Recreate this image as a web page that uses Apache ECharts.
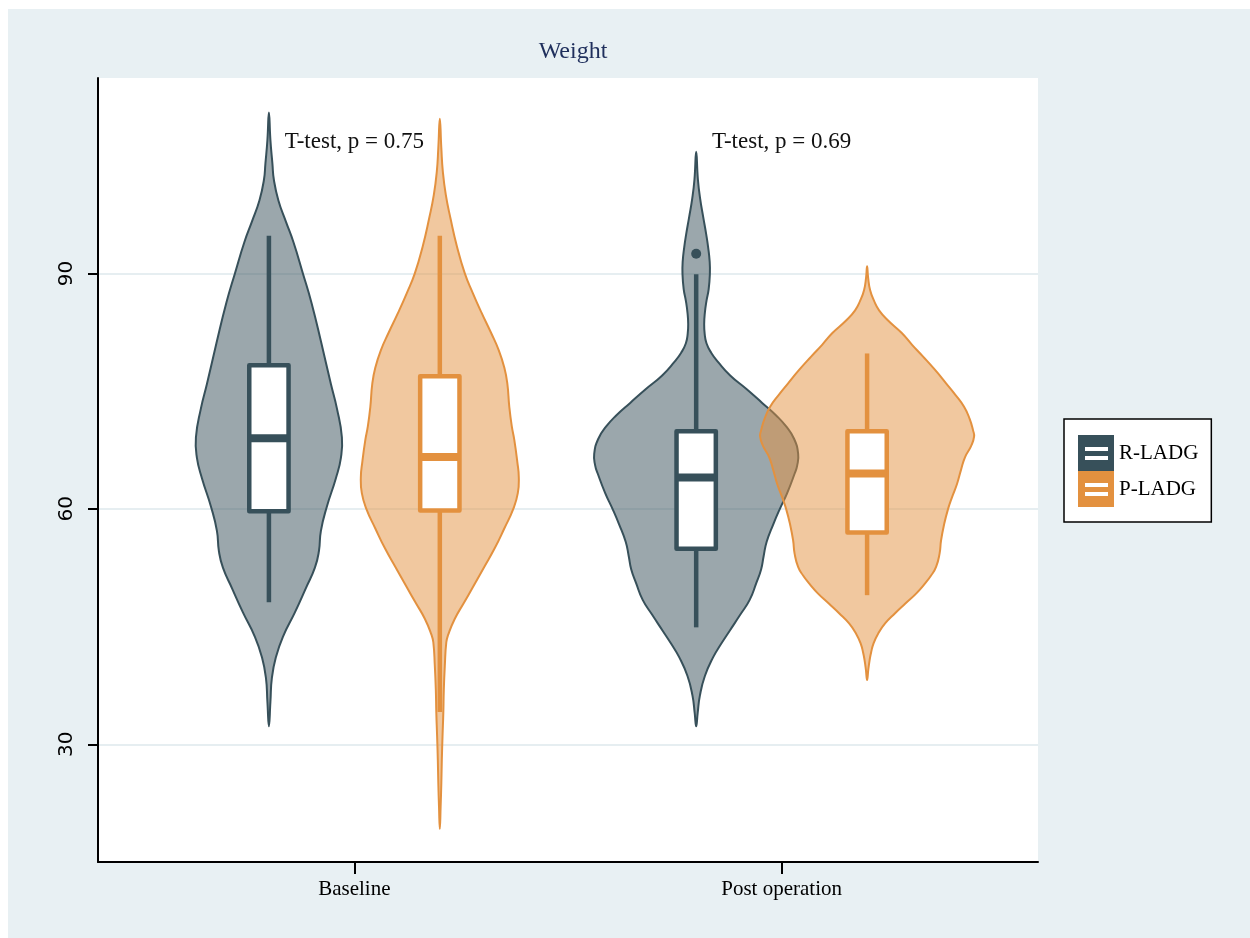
<!DOCTYPE html>
<html>
<head>
<meta charset="utf-8">
<title>Weight</title>
<script src="https://cdn.jsdelivr.net/npm/echarts@6/dist/echarts.min.js"></script>
<style>
  html, body { margin: 0; padding: 0; background: #ffffff; }
  #chart { position: absolute; left: 8px; top: 9px; width: 1242px; height: 929px; }
</style>
</head>
<body>
<div id="chart"></div>
<script>
// ---- data ----
const categories = ['Baseline', 'Post operation'];
const groups = ['R-LADG', 'P-LADG'];
const yTicks = [30, 60, 90];
const tTestLabels = ['T-test, p = 0.75', 'T-test, p = 0.69'];
const tTestY = 106.7;

// box statistics per category: [lower whisker, Q1, median, Q3, upper whisker]
const rBox = [[48.1, 59.7, 69.0, 78.3, 94.8], [44.9, 54.9, 64.0, 69.9, 89.9]];
const pBox = [[34.1, 59.8, 66.6, 76.9, 94.8], [49.0, 57.0, 64.5, 69.9, 79.8]];
const rOutliers = [[], [92.5]];
const pOutliers = [[], []];

// kernel density outlines: [weight, relative density], top to bottom
const rDensityBaseline = [
  [110.5, 0], [107, 0.015], [104, 0.035], [101.9, 0.05], [99.3, 0.095], [96.6, 0.17],
  [94, 0.245], [90, 0.34], [86.3, 0.425], [81.1, 0.525], [75.9, 0.62], [72.8, 0.68],
  [69.1, 0.73], [66.5, 0.72], [63.9, 0.67], [60.3, 0.58], [57.2, 0.52], [54.6, 0.50],
  [52.5, 0.46], [49.9, 0.37], [46.8, 0.26], [43.7, 0.14], [41.1, 0.07], [38.5, 0.03],
  [35.4, 0.015], [32.3, 0]
];
const pDensityBaseline = [
  [109.7, 0], [106, 0.015], [103, 0.03], [100, 0.06], [97, 0.107], [93.5, 0.17],
  [90, 0.25], [87.5, 0.33], [85, 0.417], [82.5, 0.51], [80.2, 0.59], [78, 0.645],
  [76, 0.675], [73, 0.695], [70.5, 0.72], [68.8, 0.745], [66, 0.775], [64, 0.79],
  [62, 0.78], [60, 0.735], [57.5, 0.645], [55, 0.55], [52.5, 0.44], [50, 0.33],
  [48, 0.24], [46, 0.15], [44, 0.085], [43, 0.065], [40, 0.05], [37, 0.04],
  [34, 0.035], [31, 0.027], [28, 0.02], [25, 0.015], [22, 0.008], [19.2, 0]
];
const rDensityPost = [
  [105.5, 0], [102, 0.017], [99.5, 0.04], [97.2, 0.07], [95, 0.10], [93.3, 0.12],
  [91.5, 0.135], [90, 0.137], [88, 0.125], [86.5, 0.103], [85, 0.087], [83.6, 0.08],
  [82.3, 0.085], [81.1, 0.103], [79.9, 0.15], [78.7, 0.22], [77, 0.34], [75.3, 0.50],
  [73.5, 0.66], [71.9, 0.80], [70.5, 0.90], [68.9, 0.98], [67, 1.02], [65.5, 1.01],
  [64.5, 0.985], [62, 0.91], [60, 0.837], [58, 0.77], [55.8, 0.705], [54, 0.675],
  [52.3, 0.65], [50.5, 0.60], [48.4, 0.535], [46.5, 0.44], [44.5, 0.337], [42.8, 0.25],
  [41.1, 0.17], [38.7, 0.087], [36.2, 0.037], [34, 0.015], [32.3, 0]
];
const pDensityPost = [
  [90.9, 0], [89.5, 0.01], [87.9, 0.03], [86.5, 0.07], [85.3, 0.12], [84, 0.21],
  [82.4, 0.347], [80.9, 0.45], [79.4, 0.56], [77.7, 0.68], [76, 0.79], [74.5, 0.885],
  [73, 0.97], [71.5, 1.025], [70, 1.06], [69.2, 1.07], [68, 1.04], [66.6, 0.98],
  [65, 0.94], [63.2, 0.90], [61.5, 0.85], [60, 0.81], [58, 0.77], [56, 0.74],
  [54.3, 0.725], [52.6, 0.69], [51.5, 0.64], [50.5, 0.58], [49.2, 0.49], [47.9, 0.38],
  [46.7, 0.28], [45.4, 0.18], [44.1, 0.11], [42.8, 0.063], [41.7, 0.04], [40.7, 0.025],
  [39.5, 0.012], [38.2, 0]
];

// ---- styling ----
const R_COLOR = '#37505a';
const R_FILL = 'rgba(55, 80, 90, 0.5)';
const P_COLOR = '#e3913f';
const P_FILL = 'rgba(227, 145, 63, 0.5)';
const GROUP_OFFSET = 0.2;     // dodge distance from category centre (x units)
const VIOLIN_WIDTH = 0.234;   // x units per density unit
const BOX_HALF = 0.046;       // half width of the box (x units)
const SERIF = "'Liberation Serif', 'DejaVu Serif', serif";
const SANS = "'DejaVu Sans', 'Liberation Sans', sans-serif";

// legend icon: filled square with two open bars (nonzero winding holes)
const LEGEND_ICON = 'path://M0,0H36V36H0Z M7,12V16H30V12Z M7,21V25H30V21Z';

function violinRenderer(densities, boxes, outliers, offset, stroke, fill) {
  return function (params, api) {
    const cat = api.value(0);
    const k = cat - 1;
    const cx = cat + offset;
    const dens = densities[k];
    const rightSide = dens.map(function (p) { return api.coord([cx + p[1] * VIOLIN_WIDTH, p[0]]); });
    const leftSide = dens.slice(1, -1).reverse().map(function (p) { return api.coord([cx - p[1] * VIOLIN_WIDTH, p[0]]); });
    const children = [];
    children.push({
      type: 'polygon',
      shape: { points: rightSide.concat(leftSide), smooth: 0.5 },
      style: { fill: fill, stroke: stroke, lineWidth: 2 }
    });
    const b = boxes[k];
    const pLow = api.coord([cx, b[0]]);
    const pQ1 = api.coord([cx, b[1]]);
    const pMed = api.coord([cx, b[2]]);
    const pQ3 = api.coord([cx, b[3]]);
    const pHigh = api.coord([cx, b[4]]);
    const xl = api.coord([cx - BOX_HALF, b[2]])[0];
    const xr = api.coord([cx + BOX_HALF, b[2]])[0];
    children.push({
      type: 'line',
      shape: { x1: pQ3[0], y1: pQ3[1], x2: pHigh[0], y2: pHigh[1] },
      style: { stroke: stroke, lineWidth: 4.5 }
    });
    children.push({
      type: 'line',
      shape: { x1: pQ1[0], y1: pQ1[1], x2: pLow[0], y2: pLow[1] },
      style: { stroke: stroke, lineWidth: 4.5 }
    });
    children.push({
      type: 'rect',
      shape: { x: xl, y: pQ3[1], width: xr - xl, height: pQ1[1] - pQ3[1] },
      style: { fill: '#ffffff', stroke: stroke, lineWidth: 4.5, lineJoin: 'round' }
    });
    children.push({
      type: 'line',
      shape: { x1: xl, y1: pMed[1], x2: xr, y2: pMed[1] },
      style: { stroke: stroke, lineWidth: 8 }
    });
    outliers[k].forEach(function (v) {
      const p = api.coord([cx, v]);
      children.push({
        type: 'circle',
        shape: { cx: p[0], cy: p[1], r: 5 },
        style: { fill: stroke }
      });
    });
    return { type: 'group', children: children };
  };
}

const catData = categories.map(function (c, i) { return [i + 1, 60]; });

const chart = echarts.init(document.getElementById('chart'), null, { renderer: 'canvas' });
chart.setOption({
  backgroundColor: '#e8f0f3',
  animation: false,
  title: {
    text: 'Weight',
    left: 560,
    textAlign: 'center',
    top: 26,
    textStyle: { fontFamily: SERIF, fontSize: 24, fontWeight: 'normal', color: '#1f2f5c' }
  },
  legend: {
    orient: 'vertical',
    left: 1056,
    top: 410,
    padding: [16, 13, 15, 14],
    itemWidth: 36,
    itemHeight: 36,
    itemGap: 0,
    backgroundColor: '#ffffff',
    borderColor: '#000000',
    borderWidth: 1.5,
    borderRadius: 0,
    selectedMode: false,
    textStyle: { fontFamily: SERIF, fontSize: 21, color: '#000000' },
    data: groups.map(function (g) { return { name: g, icon: LEGEND_ICON }; })
  },
  grid: {
    left: 90, right: 212, top: 69, bottom: 76,
    backgroundColor: '#ffffff', show: true, borderWidth: 0,
    outerBoundsMode: 'none'
  },
  xAxis: {
    type: 'value',
    min: 0.4,
    max: 2.6,
    axisLine: { show: true, lineStyle: { color: '#000000', width: 2 } },
    axisTick: { show: true, customValues: [1, 2], length: 12, lineStyle: { color: '#000000', width: 2 } },
    axisLabel: {
      customValues: [1, 2],
      formatter: function (v) { return categories[Math.round(v) - 1]; },
      fontFamily: SERIF, fontSize: 21, color: '#000000', margin: 17
    },
    splitLine: { show: false }
  },
  yAxis: {
    type: 'value',
    min: 15,
    max: 114.9,
    axisLine: { show: true, lineStyle: { color: '#000000', width: 2 } },
    axisTick: { show: true, customValues: yTicks, length: 10, lineStyle: { color: '#000000', width: 2 } },
    axisLabel: {
      customValues: yTicks,
      rotate: 90,
      fontFamily: SANS, fontSize: 20, color: '#000000', margin: 21
    },
    splitLine: { show: true, lineStyle: { color: '#e6eef1', width: 2 } }
  },
  series: [
    {
      name: 'R-LADG',
      type: 'custom',
      silent: true,
      itemStyle: { color: R_COLOR },
      encode: { x: 0, y: 1 },
      data: catData,
      renderItem: violinRenderer([rDensityBaseline, rDensityPost], rBox, rOutliers, -GROUP_OFFSET, R_COLOR, R_FILL)
    },
    {
      name: 'P-LADG',
      type: 'custom',
      silent: true,
      itemStyle: { color: P_COLOR },
      encode: { x: 0, y: 1 },
      data: catData,
      renderItem: violinRenderer([pDensityBaseline, pDensityPost], pBox, pOutliers, GROUP_OFFSET, P_COLOR, P_FILL)
    },
    {
      name: 'annotations',
      type: 'custom',
      silent: true,
      encode: { x: 0, y: 1 },
      data: categories.map(function (c, i) { return [i + 1, tTestY]; }),
      renderItem: function (params, api) {
        const p = api.coord([api.value(0), api.value(1)]);
        return {
          type: 'text',
          x: p[0],
          y: p[1],
          style: {
            text: tTestLabels[params.dataIndex],
            fill: '#111111',
            fontFamily: SERIF,
            fontSize: 23,
            align: 'center',
            verticalAlign: 'middle'
          }
        };
      }
    }
  ]
});
</script>
</body>
</html>
